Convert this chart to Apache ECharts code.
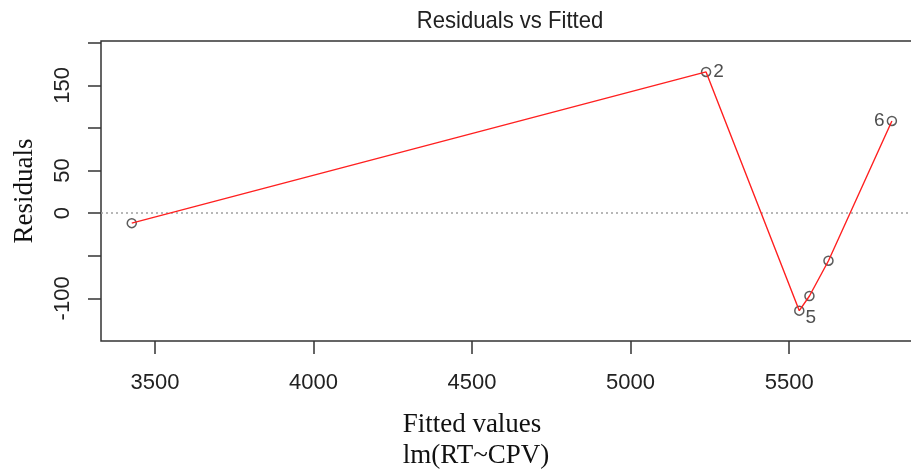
<!DOCTYPE html>
<html>
<head>
<meta charset="utf-8">
<script src="https://cdn.jsdelivr.net/npm/echarts@6/dist/echarts.min.js"></script>
<style>
html,body{margin:0;padding:0;background:#fff;}
#chart{width:911px;height:469px;}
</style>
</head>
<body>
<div id="chart"></div>
<script>
// ---- data ----
const fitted    = [3427, 5238, 5624, 5564, 5532, 5824];
const residuals = [-11.7, 165.7, -55.8, -97.2, -114.4, 108.2];
const obsLabels = ['', '2', '', '', '5', '6'];
const xTicks = [3500, 4000, 4500, 5000, 5500];
const yTicks = [-100, -50, 0, 50, 100, 150, 200];
const yTickLabels = [-100, 0, 50, 150];
const titleText = 'Residuals vs Fitted';
const xTitle1 = 'Fitted values';
const xTitle2 = 'lm(RT~CPV)';
const yTitle = 'Residuals';

// ---- build ----
const labelPos = { '2': ['right', [-1, 0]], '5': ['right', [-2, 7]], '6': ['left', [1, 0]] };
const pts = fitted.map((f, i) => {
  const id = obsLabels[i];
  const d = { value: [f, residuals[i]] };
  if (id) {
    const p = labelPos[id];
    d.label = { show: true, formatter: id, position: p[0], offset: p[1] };
  }
  return d;
});
const linePts = fitted.map((f, i) => [f, residuals[i]]).sort((a, b) => a[0] - b[0]);

const chart = echarts.init(document.getElementById('chart'), null, { renderer: 'canvas' });
const sans = 'Liberation Sans, Arial, sans-serif';
const serif = 'Liberation Serif, Times New Roman, serif';
chart.setOption({
  animation: false,
  backgroundColor: '#fff',
  grid: { left: 101, width: 815, top: 41, height: 300, containLabel: false, outerBoundsMode: 'none', show: true, borderColor: '#333', borderWidth: 1.5, backgroundColor: 'transparent' },
  xAxis: {
    type: 'value', min: 3330, max: 5900,
    axisLine: { show: false, onZero: false },
    splitLine: { show: false },
    axisTick: { show: true, length: 13, lineStyle: { color: '#333', width: 1.5 }, customValues: xTicks },
    axisLabel: { customValues: xTicks, margin: 31, fontFamily: sans, fontSize: 22, color: '#222', formatter: v => String(v) }
  },
  yAxis: {
    type: 'value', min: -150, max: 202,
    axisLine: { show: false, onZero: false },
    splitLine: { show: false },
    axisTick: { show: true, length: 13, lineStyle: { color: '#333', width: 1.5 }, customValues: yTicks },
    axisLabel: { customValues: yTickLabels, rotate: 90, margin: 27, fontFamily: sans, fontSize: 22, color: '#222', formatter: v => String(v) }
  },
  series: [
    {
      type: 'scatter', z: 2,
      symbol: 'circle', symbolSize: 9,
      itemStyle: { color: 'transparent', borderColor: '#333', borderWidth: 1.5 },
      label: { fontFamily: sans, fontSize: 19, color: '#222', distance: 3 },
      emphasis: { disabled: true },
      data: pts
    },
    {
      type: 'line', z: 3,
      symbol: 'none',
      lineStyle: { color: '#ff2020', width: 1.4 },
      data: linePts,
      markLine: {
        silent: true, symbol: 'none', z: 1,
        label: { show: false },
        lineStyle: { color: '#a0a0a0', type: [2, 3], width: 1.6 },
        data: [{ yAxis: 0 }]
      }
    }
  ],
  graphic: [
    { type: 'text', x: 510, y: 21, scaleX: 0.92, style: { text: titleText, font: '24px ' + sans, fill: '#222', textAlign: 'center', textVerticalAlign: 'middle' } },
    { type: 'text', x: 472, y: 425, style: { text: xTitle1, font: '27px ' + serif, fill: '#111', textAlign: 'center', textVerticalAlign: 'middle' } },
    { type: 'text', x: 476, y: 456, style: { text: xTitle2, font: '27px ' + serif, fill: '#111', textAlign: 'center', textVerticalAlign: 'middle' } },
    { type: 'text', x: 25, y: 191, rotation: Math.PI / 2, style: { text: yTitle, font: '27px ' + serif, fill: '#111', textAlign: 'center', textVerticalAlign: 'middle' } }
  ]
});
</script>
</body>
</html>
